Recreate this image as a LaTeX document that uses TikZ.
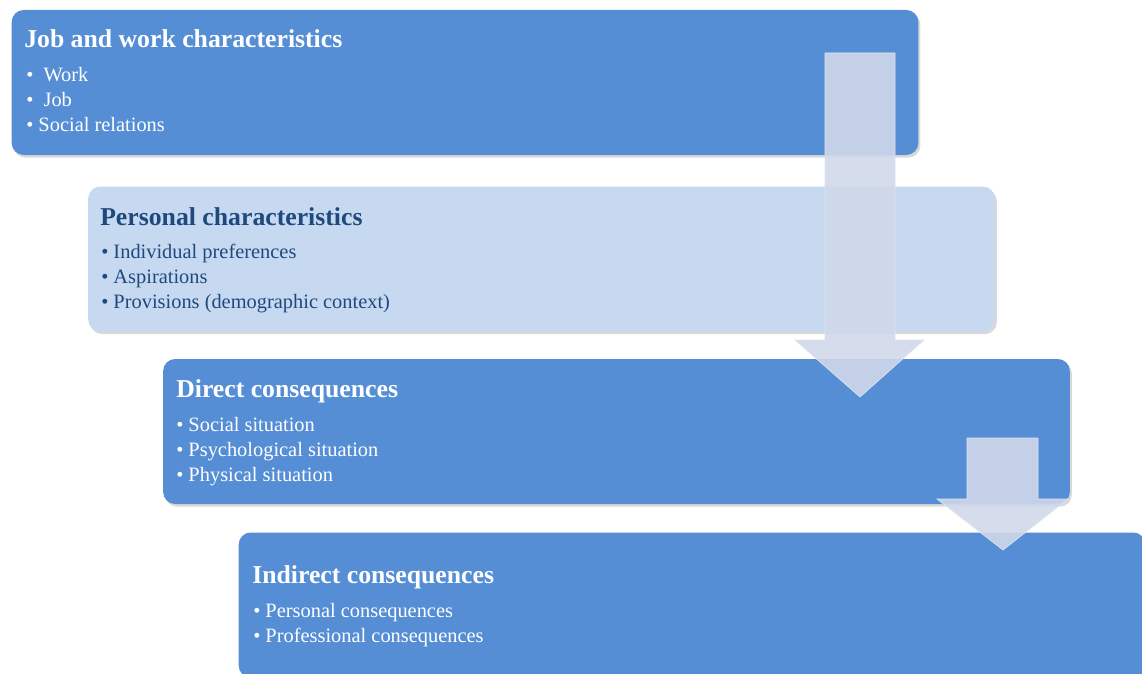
\documentclass[tikz,border=0pt]{standalone}
\usepackage{fontspec}
\setmainfont{Liberation Serif}
\usetikzlibrary{shadows}
\definecolor{stageblue}{RGB}{85,142,213}
\definecolor{stagelight}{RGB}{198,217,241}
\definecolor{stagedark}{RGB}{31,73,125}
\definecolor{flowfill}{RGB}{208,216,233}
\definecolor{flowedge}{RGB}{222,228,242}
\tikzset{
    stage/.style={rectangle, rounded corners=9pt, minimum width=680pt,
        minimum height=108.75pt, inner sep=0pt,
        drop shadow={shadow xshift=1.5pt, shadow yshift=-2pt, opacity=0.3}},
    title/.style={anchor=base west, inner sep=0pt,
        font=\bfseries\fontsize{19.3}{23}\selectfont},
    item/.style={anchor=base west, inner sep=0pt,
        font=\fontsize{15.3}{18}\selectfont},
    flow/.style={fill=flowfill, fill opacity=0.9, draw=flowedge, line width=0.5pt}
}
\begin{document}
\begin{tikzpicture}[x=0.75pt, y=-0.75pt]
    \useasboundingbox (0,0) rectangle (1142,674);
    \clip (0,0) rectangle (1142,674);
    % Boxes
    \node[stage, fill=stageblue] (job) at (465,82.5) {};
    \node[stage, fill=stagelight] (pers) at (541.5,259) {};
    \node[stage, fill=stageblue] (direct) at (616.5,431.5) {};
    \node[stage, fill=stageblue] (indirect) at (692,605) {};
    % Job and work
    \node[title, white] (jobtitle) at (24,48) {Job and work characteristics};
    \node[item, white] (job-1) at (26,82) {•\ \ Work};
    \node[item, white] (job-2) at (26,107) {•\ \ Job};
    \node[item, white] (job-3) at (26,132) {• Social relations};
    % Personal
    \node[title, stagedark] (perstitle) at (100,225) {Personal characteristics};
    \foreach \txt [count=\i] in {Individual preferences, Aspirations,
        Provisions (demographic context)} {
        \node[item, stagedark] (pers-\i) at (101,233+25*\i) {• \txt};
    }
    % Direct
    \node[title, white] (directtitle) at (176,397) {Direct consequences};
    \foreach \txt [count=\i] in {Social situation, Psychological situation,
        Physical situation} {
        \node[item, white] (direct-\i) at (176,406+25*\i) {• \txt};
    }
    % Indirect
    \node[title, white] (indirecttitle) at (252,583) {Indirect consequences};
    \foreach \txt [count=\i] in {Personal consequences, Professional consequences} {
        \node[item, white] (indirect-\i) at (253,592+25*\i) {• \txt};
    }
    % Arrows
    \draw[flow] (825,53) -- (895,53) -- (895,340) -- (924,340) -- (860,397)
        -- (795,340) -- (825,340) -- cycle;
    \draw[flow] (967,438) -- (1038,438) -- (1038,499) -- (1068,499) -- (1003,550)
        -- (937,499) -- (967,499) -- cycle;
\end{tikzpicture}
\end{document}
